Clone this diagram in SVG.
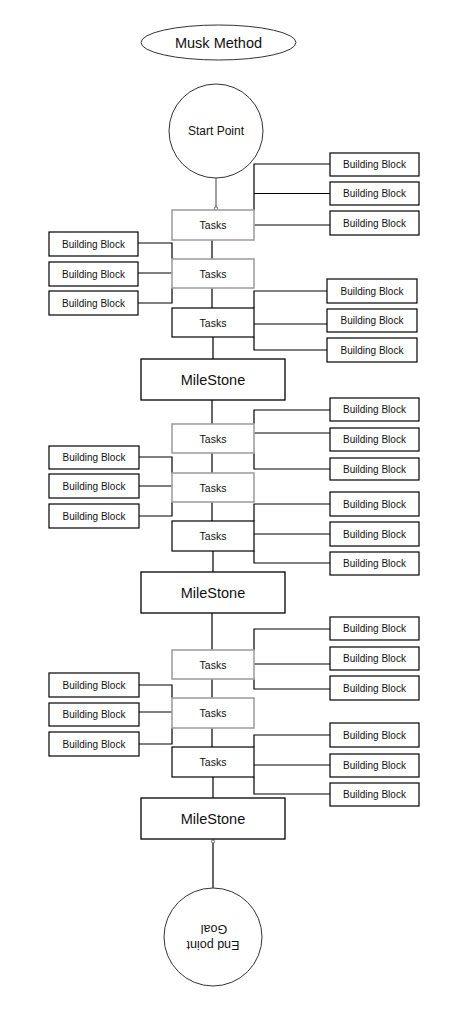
<svg xmlns="http://www.w3.org/2000/svg" width="458" height="1009" viewBox="0 0 458 1009">
<style>
text{font-family:"Liberation Sans",Arial,sans-serif;fill:#111;text-anchor:middle;dominant-baseline:central}
.bb rect{fill:#fff;stroke:#000;stroke-width:1.2}
.bb text{font-size:10px}
.tg rect{fill:#fff;stroke:#a0a0a0;stroke-width:1.6}
.tb rect{fill:#fff;stroke:#000;stroke-width:1.2}
.tg text,.tb text{font-size:10.5px}
.ms rect{fill:#fff;stroke:#000;stroke-width:1.3}
.ms text{font-size:14.5px}
.c{fill:none;stroke:#000;stroke-width:1.2}
</style>
<rect width="458" height="1009" fill="#fff"/>
<g id="connectors">
<path class="c" d="M216,178 V207" style="stroke:#8a8a8a;stroke-width:1.6"/>
<circle cx="216" cy="208.5" r="1.6" fill="#fff" stroke="#555" stroke-width="0.9"/>
<path class="c" d="M254,210 V164 H330 M254,193.5 H330 M254,225 H330"/>
<path class="c" d="M138,243 H172 V259 M138,273 H172 M138,303 H172 V288"/>
<path class="c" d="M254,308 V291 H327 M254,324 H327 M254,337 V350 H327"/>
<path class="c" d="M212,240 V259 M212,288 V308 M213,337 V359"/>
<path class="c" d="M212,400 V424"/>
<path class="c" d="M254,424 V410 H330 M254,433 H330 M254,453 V469 H330"/>
<path class="c" d="M139,457 H172 V473 M139,486 H172 M139,516 H172 V502"/>
<path class="c" d="M212,453 V473 M212,502 V521"/>
<path class="c" d="M254,521 V504 H330 M254,534 H330 M254,551 V563 H330"/>
<path class="c" d="M213,551 V572"/>
<path class="c" d="M212,613 V650"/>
<path class="c" d="M254,650 V629 H330 M254,664 H330 M254,679 V689 H330"/>
<path class="c" d="M139,685 H172 V698 M139,712 H172 M139,744 H172 V728"/>
<path class="c" d="M212,679 V698 M212,728 V747"/>
<path class="c" d="M254,747 V735 H330 M254,765 H330 M254,777 V794 H330"/>
<path class="c" d="M213,777 V798"/>
<path class="c" d="M213,843 V888"/>
<circle cx="213" cy="841.5" r="1.6" fill="#fff" stroke="#555" stroke-width="0.9"/>
</g>
<g id="title"><ellipse cx="218.5" cy="42.5" rx="77.5" ry="17.5" fill="#fff" stroke="#333" stroke-width="1"/><text x="218.5" y="42.5" font-size="14.5">Musk Method</text></g>
<g id="start"><circle cx="216" cy="131" r="47" fill="#fff" stroke="#333" stroke-width="1"/><text x="216" y="131" font-size="12">Start Point</text></g>
<g id="end"><circle cx="213" cy="937" r="49" fill="#fff" stroke="#333" stroke-width="1"/><g transform="rotate(180 213 937)"><text x="213" y="929" font-size="12.5">End point</text><text x="212" y="945.5" font-size="12.5">Goal</text></g></g>

<g id="tasks1" class="tg"><rect x="172" y="210" width="82" height="30"/><text x="213" y="225">Tasks</text></g>
<g id="bb1a" class="bb"><rect x="330" y="153" width="89" height="23"/><text x="374.5" y="164.5">Building Block</text></g>
<g id="bb1b" class="bb"><rect x="330" y="182" width="89" height="23"/><text x="374.5" y="193.5">Building Block</text></g>
<g id="bb1c" class="bb"><rect x="330" y="211" width="89" height="24"/><text x="374.5" y="223">Building Block</text></g>
<g id="tasks2" class="tg"><rect x="172" y="259" width="82" height="29"/><text x="213" y="273.5">Tasks</text></g>
<g id="bb2a" class="bb"><rect x="49" y="232" width="89" height="24"/><text x="93.5" y="244">Building Block</text></g>
<g id="bb2b" class="bb"><rect x="49" y="262" width="89" height="24"/><text x="93.5" y="274">Building Block</text></g>
<g id="bb2c" class="bb"><rect x="49" y="291" width="89" height="24"/><text x="93.5" y="303">Building Block</text></g>
<g id="tasks3" class="tb"><rect x="172" y="308" width="82" height="29"/><text x="213" y="322.5">Tasks</text></g>
<g id="bb3a" class="bb"><rect x="327" y="279" width="90" height="24"/><text x="372" y="291">Building Block</text></g>
<g id="bb3b" class="bb"><rect x="327" y="309" width="90" height="23"/><text x="372" y="320.5">Building Block</text></g>
<g id="bb3c" class="bb"><rect x="327" y="338" width="90" height="24"/><text x="372" y="350">Building Block</text></g>
<g id="milestone1" class="ms"><rect x="141" y="359" width="144" height="41"/><text x="213" y="379.5">MileStone</text></g>

<g id="tasks4" class="tg"><rect x="172" y="424" width="82" height="29"/><text x="213" y="438.5">Tasks</text></g>
<g id="bb4a" class="bb"><rect x="330" y="398" width="89" height="23"/><text x="374.5" y="409.5">Building Block</text></g>
<g id="bb4b" class="bb"><rect x="330" y="428" width="89" height="23"/><text x="374.5" y="439.5">Building Block</text></g>
<g id="bb4c" class="bb"><rect x="330" y="458" width="89" height="22"/><text x="374.5" y="469">Building Block</text></g>
<g id="tasks5" class="tg"><rect x="172" y="473" width="82" height="29"/><text x="213" y="487.5">Tasks</text></g>
<g id="bb5a" class="bb"><rect x="49" y="446" width="90" height="23"/><text x="94" y="457.5">Building Block</text></g>
<g id="bb5b" class="bb"><rect x="49" y="474" width="90" height="24"/><text x="94" y="486">Building Block</text></g>
<g id="bb5c" class="bb"><rect x="49" y="504" width="90" height="24"/><text x="94" y="516">Building Block</text></g>
<g id="tasks6" class="tb"><rect x="172" y="521" width="82" height="30"/><text x="213" y="536">Tasks</text></g>
<g id="bb6a" class="bb"><rect x="330" y="492" width="89" height="24"/><text x="374.5" y="504">Building Block</text></g>
<g id="bb6b" class="bb"><rect x="330" y="522" width="89" height="24"/><text x="374.5" y="534">Building Block</text></g>
<g id="bb6c" class="bb"><rect x="330" y="552" width="89" height="23"/><text x="374.5" y="563.5">Building Block</text></g>
<g id="milestone2" class="ms"><rect x="141" y="572" width="144" height="41"/><text x="213" y="592.5">MileStone</text></g>

<g id="tasks7" class="tg"><rect x="172" y="650" width="82" height="29"/><text x="213" y="664.5">Tasks</text></g>
<g id="bb7a" class="bb"><rect x="330" y="617" width="89" height="23"/><text x="374.5" y="628.5">Building Block</text></g>
<g id="bb7b" class="bb"><rect x="330" y="647" width="89" height="23"/><text x="374.5" y="658.5">Building Block</text></g>
<g id="bb7c" class="bb"><rect x="330" y="676" width="89" height="24"/><text x="374.5" y="688">Building Block</text></g>
<g id="tasks8" class="tg"><rect x="172" y="698" width="82" height="30"/><text x="213" y="713">Tasks</text></g>
<g id="bb8a" class="bb"><rect x="49" y="673" width="90" height="24"/><text x="94" y="685">Building Block</text></g>
<g id="bb8b" class="bb"><rect x="49" y="703" width="90" height="23"/><text x="94" y="714.5">Building Block</text></g>
<g id="bb8c" class="bb"><rect x="49" y="732" width="90" height="24"/><text x="94" y="744">Building Block</text></g>
<g id="tasks9" class="tb"><rect x="172" y="747" width="82" height="30"/><text x="213" y="762">Tasks</text></g>
<g id="bb9a" class="bb"><rect x="330" y="723" width="89" height="24"/><text x="374.5" y="735">Building Block</text></g>
<g id="bb9b" class="bb"><rect x="330" y="754" width="89" height="23"/><text x="374.5" y="765.5">Building Block</text></g>
<g id="bb9c" class="bb"><rect x="330" y="783" width="89" height="23"/><text x="374.5" y="794.5">Building Block</text></g>
<g id="milestone3" class="ms"><rect x="141" y="798" width="144" height="41"/><text x="213" y="818.5">MileStone</text></g>
</svg>
